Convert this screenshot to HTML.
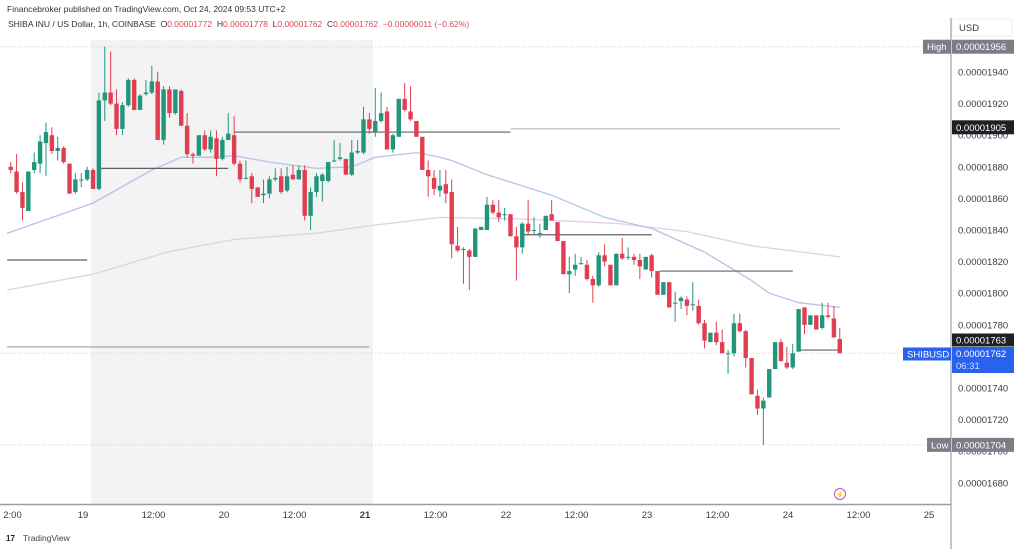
<!DOCTYPE html>
<html><head><meta charset="utf-8">
<style>
html,body{margin:0;padding:0;background:#fff;}
body{width:1024px;height:549px;overflow:hidden;font-family:"Liberation Sans",sans-serif;position:relative;}
.hdr1{position:absolute;left:7px;top:4px;font-size:8.5px;color:#333;}
.hdr2{position:absolute;left:8px;top:19px;font-size:8.5px;color:#333;white-space:pre;}
.r{color:#e0475a;}
</style></head>
<body>
<div class="hdr1">Financebroker published on TradingView.com, Oct 24, 2024 09:53 UTC+2</div>
<div class="hdr2">SHIBA INU / US Dollar, 1h, COINBASE  O<span class="r">0.00001772</span>  H<span class="r">0.00001778</span>  L<span class="r">0.00001762</span>  C<span class="r">0.00001762</span>  <span class="r">−0.00000011 (−0.62%)</span></div>
<svg id="chart" width="1024" height="549" style="position:absolute;left:0;top:0" xmlns="http://www.w3.org/2000/svg"></svg>
<script>
// OHLC in units of 1e-8 USD
const candles = [
[1880,1883,1876,1878],[1877,1888,1863,1864],[1864,1870,1846,1854],[1852,1877,1852,1877],[1878,1889,1876,1883],
[1882,1900,1876,1896],[1895,1908,1874,1902],[1900,1905,1888,1890],[1890,1899,1884,1892],[1892,1893,1882,1883],
[1882,1882,1863,1863],[1864,1876,1863,1872],[1872,1876,1867,1872],[1872,1880,1871,1878],[1878,1879,1866,1866],
[1866,1927,1865,1922],[1922,1956,1909,1927],[1927,1953,1919,1920],[1920,1929,1900,1904],[1904,1921,1900,1919],
[1919,1936,1918,1935],[1935,1936,1916,1916],[1916,1926,1916,1925],[1926,1935,1925,1927],[1927,1944,1926,1934],
[1934,1940,1897,1897],[1897,1931,1894,1929],[1929,1931,1911,1914],[1914,1929,1913,1929],[1928,1929,1906,1906],
[1906,1914,1886,1888],[1888,1889,1882,1887],[1887,1900,1887,1900],[1900,1903,1890,1891],[1891,1903,1889,1899],
[1898,1903,1874,1885],[1885,1899,1884,1897],[1897,1914,1897,1901],[1900,1912,1881,1882],[1882,1884,1870,1872],
[1873,1884,1872,1873],[1874,1876,1857,1866],[1867,1867,1861,1861],[1862,1872,1857,1863],[1863,1874,1860,1872],
[1872,1879,1871,1873],[1874,1879,1863,1864],[1865,1880,1864,1874],[1875,1881,1872,1872],[1872,1881,1872,1878],
[1878,1881,1846,1849],[1849,1867,1840,1864],[1864,1876,1861,1874],[1871,1876,1858,1875],[1871,1883,1870,1883],
[1884,1897,1883,1884],[1885,1895,1884,1886],[1885,1885,1875,1875],[1875,1897,1874,1889],[1889,1897,1888,1890],
[1889,1918,1888,1910],[1910,1914,1901,1904],[1902,1930,1899,1909],[1909,1927,1908,1914],[1915,1918,1891,1891],
[1891,1901,1889,1900],[1899,1923,1899,1923],[1923,1933,1915,1916],[1915,1931,1909,1910],[1909,1909,1899,1899],
[1899,1899,1878,1878],[1878,1884,1861,1874],[1873,1878,1862,1866],[1865,1878,1861,1868],[1869,1878,1857,1863],
[1864,1872,1822,1831],[1830,1842,1826,1827],[1828,1829,1806,1828],[1827,1828,1802,1823],[1823,1841,1823,1841],
[1840,1842,1840,1842],[1840,1861,1840,1856],[1856,1859,1850,1851],[1851,1859,1845,1848],[1850,1854,1846,1850],
[1850,1850,1836,1836],[1836,1842,1808,1829],[1829,1845,1825,1844],[1844,1859,1837,1839],[1840,1848,1837,1840],
[1838,1844,1835,1838],[1840,1849,1840,1849],[1850,1859,1846,1846],[1845,1845,1833,1833],[1833,1833,1812,1812],
[1812,1823,1800,1814],[1815,1825,1811,1818],[1819,1823,1818,1819],[1818,1821,1808,1809],[1809,1811,1794,1805],
[1805,1826,1804,1824],[1824,1831,1817,1820],[1818,1818,1805,1805],[1805,1825,1805,1825],[1825,1835,1821,1822],
[1823,1829,1821,1823],[1823,1825,1818,1821],[1821,1825,1809,1817],[1815,1823,1815,1823],[1824,1825,1810,1814],
[1814,1814,1799,1799],[1799,1807,1799,1807],[1807,1807,1791,1791],[1794,1801,1782,1794],[1795,1798,1790,1797],
[1796,1798,1786,1792],[1793,1807,1789,1793],[1792,1796,1780,1781],[1781,1783,1765,1770],[1769,1775,1769,1775],
[1775,1782,1767,1769],[1769,1777,1762,1762],[1762,1764,1749,1762],[1762,1787,1760,1781],[1781,1787,1775,1776],
[1776,1777,1753,1759],[1759,1759,1736,1736],[1735,1739,1723,1727],[1727,1734,1704,1732],[1734,1752,1734,1752],
[1752,1769,1752,1769],[1769,1771,1757,1757],[1756,1766,1752,1753],[1753,1768,1752,1762],[1763,1790,1763,1790],
[1791,1791,1774,1780],[1780,1786,1780,1786],[1786,1786,1777,1777],[1778,1794,1777,1786],[1786,1794,1784,1785],
[1784,1792,1772,1772],[1771,1778,1762,1762]
];
// moving averages: [candle index, value]
const maFastIdx = [-0.6,14,24,29,34,38,44,52,58,62,69,73,75,81,92,101,109,118,126,129,134,141];
const maFastVal = [1838,1857,1878,1886,1886,1887,1883,1879,1880,1886,1889,1886,1884,1875,1862,1848,1841,1826,1808,1800,1794,1791];
const maSlowIdx = [-0.6,14,26.6,38,52,61.6,73,86.6,103.6,115,126,141];
const maSlowVal = [1802,1812,1826,1834,1838,1843,1848,1847,1844,1839,1830,1823];
// drawn horizontal levels: [startIdx, endIdx, price]
const levels = [[-0.6,13,1821],[14.7,37,1879],[38,85,1902],[87.2,109,1837],[110.4,133,1814],[134.2,141,1764],[-0.6,61,1766]];
const levelFaint = [[85,141,1904]];
const yTicks = [1940,1920,1900,1880,1860,1840,1820,1800,1780,1760,1740,1720,1700,1680];
const xLabels = ["2:00","19","12:00","20","12:00","21","12:00","22","12:00","23","12:00","24","12:00","25"];
const xLabelHours = [-12,0,12,24,36,48,60,72,84,96,108,120,132,144];

const svg = document.getElementById('chart');
const NS = 'http://www.w3.org/2000/svg';
const y = p => 72 + (1940 - p) * 1.58;
const x = i => 10.7 + i * 5.88;
const xh = h => 91 + h * 5.875;
function el(tag, attrs, parent) {
  const e = document.createElementNS(NS, tag);
  for (const k in attrs) e.setAttribute(k, attrs[k]);
  (parent || svg).appendChild(e);
  return e;
}
function txt(str, attrs) { const t = el('text', attrs); t.textContent = str; return t; }

let e = el('rect', {x: xh(0), y: 40, width: xh(48) - xh(0), height: 464, fill: '#f3f3f3'});



[[1956,'high-line'],[1704,'low-line'],[1762,'current-price-line']].forEach(([p,n]) => {
  const l = el('line', {x1: 0, x2: 951, y1: y(p), y2: y(p), stroke: '#c8ccd6', 'stroke-width': 1, 'stroke-dasharray': '1,2'});
  
  
});

function poly(idx, vals, color, name) {
  const pts = idx.map((v, k) => x(v).toFixed(1) + ',' + y(vals[k]).toFixed(1)).join(' ');
  const p = el('polyline', {points: pts, fill: 'none', stroke: color, 'stroke-width': 1.3});
  
  
}
poly(maSlowIdx, maSlowVal, '#e2cfe6', 'ma-slow-line');
poly(maFastIdx, maFastVal, '#b3c4e6', 'ma-fast-line');

levels.forEach(([a, b, p], k) => {
  const l = el('line', {x1: x(a), x2: x(b), y1: y(p), y2: y(p), stroke: k === 6 ? '#9a9ea8' : '#5d6068', 'stroke-width': 1.2});
  
  
});
levelFaint.forEach(([a, b, p]) => {
  const l = el('line', {x1: x(a), x2: x(b), y1: y(p), y2: y(p), stroke: '#a9acb3', 'stroke-width': 1});
  
  
});

candles.forEach((c, i) => {
  const [o, h, l, cl] = c;
  const col = cl >= o ? '#22957b' : '#e23e51';
  const g = el('g', {});
  
  
  el('line', {x1: x(i), x2: x(i), y1: y(h), y2: y(l), stroke: col, 'stroke-width': 1}, g);
  const top = y(Math.max(o, cl)), bot = y(Math.min(o, cl));
  el('rect', {x: x(i) - 2.2, y: top, width: 4.4, height: Math.max(1, bot - top), fill: col}, g);
});

e = el('line', {x1: 951, x2: 951, y1: 18, y2: 549, stroke: '#8a8d94', 'stroke-width': 1});


e = el('line', {x1: 0, x2: 951, y1: 504.5, y2: 504.5, stroke: '#9a9da5', 'stroke-width': 1.5});



yTicks.forEach(v => {
  const t = txt('0.0000' + v, {x: 958, y: y(v) + 3.5, 'font-size': 9.5, fill: '#3a3d45'});
  
  
});
xLabels.forEach((s, k) => {
  const t = txt(s, {x: xh(xLabelHours[k]) - 8, y: 518, 'font-size': 9.5, fill: '#3a3d45', 'text-anchor': 'middle', 'font-weight': s === '21' ? 'bold' : 'normal'});
  
  
});

function badge(x0, yc, w, h, fill, label, color, name) {
  const g = el('g', {});
  
  
  el('rect', {x: x0, y: yc - h / 2, width: w, height: h, fill: fill}, g);
  const t = document.createElementNS(NS, 'text');
  t.setAttribute('x', x0 + 4); t.setAttribute('y', yc + 3.5);
  t.setAttribute('font-size', 9.5); t.setAttribute('fill', color);
  t.textContent = label; g.appendChild(t);
}
e = el('rect', {x: 952, y: 19, width: 60, height: 17, fill: '#fff', stroke: '#eee'});


txt('USD', {x: 959, y: 31, 'font-size': 9.5, fill: '#3a3d45'});
badge(923, y(1956), 28, 14, '#7b7e86', 'High', '#fff', 'high-tag');
badge(952, y(1956), 62, 14, '#7b7e86', '0.00001956', '#fff', 'high-value');
badge(952, y(1905), 62, 14, '#1e2026', '0.00001905', '#fff', 'level-price-tag');
badge(952, 340, 62, 13, '#1e2026', '0.00001763', '#fff', 'last-level-tag');
badge(903, 354, 48, 13, '#2a62f0', 'SHIBUSD', '#fff', 'symbol-tag');
e = el('rect', {x: 952, y: 347, width: 62, height: 26, fill: '#2a62f0'});


txt('0.00001762', {x: 956, y: 357, 'font-size': 9.5, fill: '#fff'});
txt('06:31', {x: 956, y: 369, 'font-size': 9.5, fill: '#cfdcff'});
badge(927, y(1704), 24, 14, '#7b7e86', 'Low', '#fff', 'low-tag');
badge(952, y(1704), 62, 14, '#7b7e86', '0.00001704', '#fff', 'low-value');

e = el('circle', {cx: 840, cy: 494, r: 5.5, fill: '#fff', stroke: '#a45cc0', 'stroke-width': 1});


txt('⚡', {x: 840, y: 497, 'font-size': 7, fill: '#a45cc0', 'text-anchor': 'middle'});

e = txt('17', {x: 6, y: 541, 'font-size': 8, fill: '#222', 'font-weight': 'bold'});


e = txt('TradingView', {x: 23, y: 541, 'font-size': 8.5, fill: '#444'});


</script>
</body></html>
